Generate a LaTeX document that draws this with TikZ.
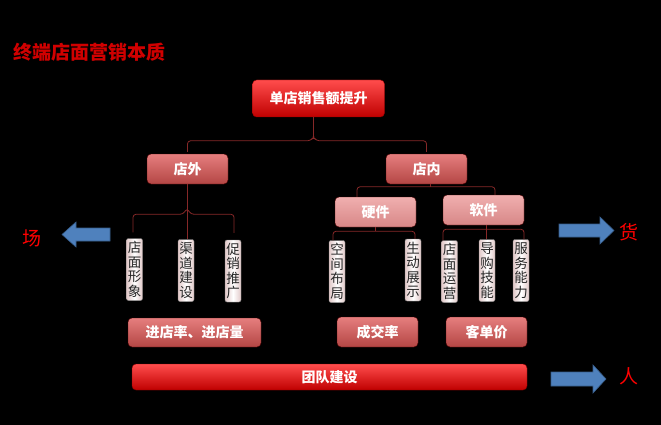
\documentclass[tikz,border=0pt]{standalone}
\usepackage{fontspec}
\setmainfont{Noto Sans CJK SC}
\usetikzlibrary{calc}
\definecolor{titlered}{HTML}{D00000}
\definecolor{conncol}{HTML}{862828}
\definecolor{arrowblue}{HTML}{4F81BD}
\definecolor{arrowedge}{HTML}{385D8A}
\tikzset{
  boxbase/.style={rounded corners=4pt, inner sep=0pt, text=white,
    font=\fontsize{14}{14}\selectfont\bfseries},
  topbox/.style={boxbase, draw=red!55!black, top color=red!70!white, middle color=red!85!black, bottom color=red!75!black},
  midbox/.style={boxbase, draw=red!30!black, top color=red!45!white!90!black, middle color={rgb,255:red,192;green,80;blue,77}, bottom color={rgb,255:red,180;green,70;blue,68}},
  lightbox/.style={boxbase, draw=red!30!black, top color={rgb,255:red,240;green,175;blue,175}, middle color={rgb,255:red,220;green,140;blue,140}, bottom color={rgb,255:red,215;green,135;blue,135}},
  vbox/.style={rounded corners=2pt, draw=black!50, inner sep=0pt, align=center,
    left color={rgb,255:red,225;green,200;blue,200}, right color={rgb,255:red,225;green,200;blue,200}, middle color=white,
    minimum width=16pt, minimum height=62pt, text=black!85,
    font=\fontsize{13.5}{14.5}\selectfont},
  conn/.style={draw=conncol, line width=0.8pt, rounded corners=3pt},
  sidelabel/.style={text=red, inner sep=0pt, font=\fontsize{19}{19}\selectfont},
  bigarrow/.style={fill=arrowblue, draw=arrowedge, line width=0.6pt},
}
\begin{document}
\begin{tikzpicture}[x=1pt,y=-1pt]
\fill[black] (0,0) rectangle (661,425);
\useasboundingbox (0,0) rectangle (661,425);

\node[text=titlered, inner sep=0pt, font=\fontsize{19}{19}\selectfont\bfseries] (title) at (89.5,52) {终端店面营销本质};

\node[topbox, minimum width=132pt, minimum height=37pt] (top) at (318.5,98.5) {单店销售额提升};
\node[midbox, minimum width=81pt, minimum height=30pt] (out) at (187.5,169) {店外};
\node[midbox, minimum width=81pt, minimum height=30pt] (in) at (426.5,169) {店内};
\node[lightbox, minimum width=81pt, minimum height=30pt] (hw) at (375.5,212) {硬件};
\node[lightbox, minimum width=81pt, minimum height=30pt] (sw) at (483.5,210) {软件};

\node[vbox] (a1) at (134.5,269.5) {店\\面\\形\\象};
\node[vbox] (a2) at (186,270.5) {渠\\道\\建\\设};
\node[vbox] (a3) at (233,271) {促\\销\\推\\广};
\node[vbox] (b1) at (337,271.5) {空\\间\\布\\局};
\node[vbox] (b2) at (413,270) {生\\动\\展\\示};
\node[vbox] (c1) at (449.5,271.5) {店\\面\\运\\营};
\node[vbox] (c2) at (487,270.5) {导\\购\\技\\能};
\node[vbox] (c3) at (521,270.5) {服\\务\\能\\力};

\node[midbox, minimum width=133pt, minimum height=29pt] (r1) at (194.5,332.5) {进店率、进店量};
\node[midbox, minimum width=81pt, minimum height=30pt] (r2) at (377.5,332) {成交率};
\node[midbox, minimum width=81pt, minimum height=30pt] (r3) at (486.5,332) {客单价};

\node[topbox, minimum width=395pt, minimum height=26pt] (team) at (329.5,377) {团队建设};

% connectors
\draw[conn] ([xshift=-5pt]top.south) -- ([xshift=-5pt,yshift=-20pt]top.south);
\draw[conn] ([yshift=2pt]out.north) |- ([xshift=-8pt,yshift=13pt]in.north -| top.south)
  -- ([xshift=-5pt,yshift=17pt]in.north -| top.south)
  -- ([xshift=-2pt,yshift=13pt]in.north -| top.south) -| ([yshift=2pt]in.north);

\draw[conn] ([xshift=3.5pt]in.south) -- ([xshift=3.5pt,yshift=-3pt]in.south);
\draw[conn] ([xshift=-18.5pt]hw.north) -- ([xshift=-18.5pt,yshift=10pt]hw.north)
  -| ([xshift=11.5pt]sw.north);

\draw[conn] (hw.south) -- ([yshift=-4pt]hw.south);
\draw[conn] ([xshift=-4pt]b1.north) -- ([xshift=-4pt,yshift=9pt]b1.north) -| ([xshift=2pt]b2.north);

\draw[conn] ([xshift=-1pt]c2.north) -- ([xshift=-1pt]c2.north |- sw.south);
\draw[conn] ([xshift=-6.5pt]c1.north) -- ([xshift=-6.5pt,yshift=11pt]c1.north) -| ([xshift=3pt]c3.north);

\draw[conn] ([xshift=1pt]a2.north) -- ([xshift=1pt]a2.north |- out.south);
\draw[conn] ([xshift=-1.5pt,yshift=6pt]a1.north) |- ([xshift=-3pt,yshift=25pt]a2.north)
  -- ([xshift=1pt,yshift=31pt]a2.north) -- ([xshift=5pt,yshift=25pt]a2.north)
  -| ([xshift=1pt,yshift=7pt]a3.north);

% side arrows and labels
\path[bigarrow] (62,234.5) -- (76,222) -- (76,228) -- (110,228) -- (110,241) -- (76,241) -- (76,247) -- cycle;
\node[sidelabel] (chang) at (32,238) {场};
\path[bigarrow] (559,224) -- (600,224) -- (600,217) -- (614,230.5) -- (600,244) -- (600,237) -- (559,237) -- cycle;
\node[sidelabel] (huo) at (629,232) {货};
\path[bigarrow] (551,372) -- (593,372) -- (593,365) -- (606,379) -- (593,393) -- (593,386) -- (551,386) -- cycle;
\node[sidelabel] (ren) at (629,376) {人};
\end{tikzpicture}
\end{document}
